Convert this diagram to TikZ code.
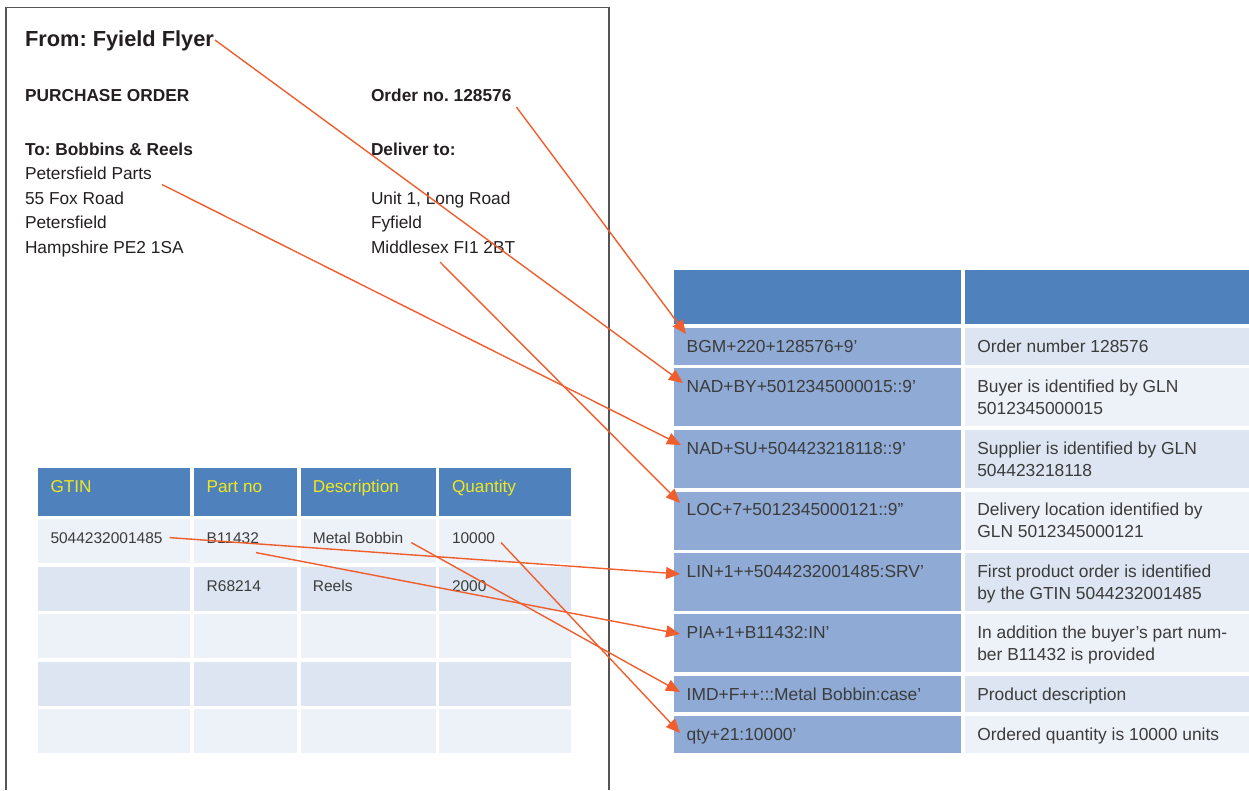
\documentclass[tikz,border=0pt]{standalone}
\usepackage{fontspec}
\setmainfont{Liberation Sans}
\usetikzlibrary{arrows.meta,calc}
\frenchspacing
\definecolor{hdr}{RGB}{79,129,189}
\definecolor{midb}{RGB}{142,170,213}
\definecolor{ltA}{RGB}{220,229,241}
\definecolor{ltB}{RGB}{237,241,248}
\definecolor{yel}{RGB}{240,232,30}
\definecolor{arrc}{RGB}{240,94,45}
\definecolor{txt}{RGB}{60,60,60}
\definecolor{ink}{RGB}{35,31,32}
\definecolor{frame}{RGB}{85,85,85}
\tikzset{
 cellbox/.style={anchor=north west, inner sep=0pt, outer sep=0pt, draw=none},
 doc/.style={anchor=base west, inner sep=0pt, outer sep=0pt, text=ink, font=\fontsize{17.3}{20}\selectfont},
 docb/.style={doc, font=\fontsize{17.3}{20}\selectfont\bfseries},
 ltxt/.style={anchor=base west, inner sep=0pt, outer sep=0pt, text=txt, font=\fontsize{15.5}{18}\selectfont},
 lhead/.style={ltxt, text=yel, font=\fontsize{17.2}{20}\selectfont},
 rtxt/.style={anchor=base west, inner sep=0pt, outer sep=0pt, text=txt, font=\fontsize{17.4}{21}\selectfont},
 link/.style={draw=arrc, line width=1.4pt, -{Triangle[length=14pt,width=12pt]}},
}
\newcommand\cellnode[6]{\node[cellbox, fill=#6, minimum width={#4-#2}, minimum height={#5-#3}] (#1) at (#2,#3) {};}
\begin{document}
\begin{tikzpicture}[x=1pt,y=-1pt]
\useasboundingbox (0,0) rectangle (1249,790);
% page frame
\draw[frame, line width=1.2pt] (6,790) -- (6,7.5) -- (609,7.5) -- (609,790);
% page texts
\node[docb, font=\fontsize{21.8}{24}\selectfont\bfseries] (tFrom) at (25,46) {From: Fyield Flyer};
\node[docb] (tPO) at (25,101) {PURCHASE ORDER};
\node[docb] (tOrder) at (371,101) {Order no. 128576};
\node[docb] (tTo) at (25,155) {To: Bobbins \& Reels};
\node[docb] (tDel) at (371,155) {Deliver to:};
\node[doc] (tPP) at (25,179.5) {Petersfield Parts};
\node[doc] (tFox) at (25,204) {55 Fox Road};
\node[doc] (tPet) at (25,228.5) {Petersfield};
\node[doc] (tHam) at (25,253) {Hampshire PE2 1SA};
\node[doc] (tUnit) at (371,204) {Unit 1, Long Road};
\node[doc] (tFyf) at (371,228.5) {Fyfield};
\node[doc] (tMid) at (371,253) {Middlesex FI1 2BT};
% left table
\cellnode{h1}{38}{467.7}{190.3}{516}{hdr}
\cellnode{h2}{193.7}{467.7}{297.1}{516}{hdr}
\cellnode{h3}{300.7}{467.7}{436}{516}{hdr}
\cellnode{h4}{439}{467.7}{570.7}{516}{hdr}
\foreach \r/\ya/\yb/\c in {1/519.3/562.7/ltB,2/566.7/610.7/ltA,3/614.3/658.3/ltB,4/662/705.7/ltA,5/709.3/753/ltB}{
  \cellnode{a\r}{38}{\ya}{190.3}{\yb}{\c}
  \cellnode{b\r}{193.7}{\ya}{297.1}{\yb}{\c}
  \cellnode{c\r}{300.7}{\ya}{436}{\yb}{\c}
  \cellnode{d\r}{439}{\ya}{570.7}{\yb}{\c}
}
\node[lhead] (hG) at ($(h1.north west)+(12.5,25)$) {GTIN};
\node[lhead] (hP) at ($(h2.north west)+(13,25)$) {Part no};
\node[lhead] (hD) at ($(h3.north west)+(12.2,25)$) {Description};
\node[lhead] (hQ) at ($(h4.north west)+(13,25)$) {Quantity};
\node[ltxt] (g1) at ($(a1.north west)+(12.5,24.3)$) {5044232001485};
\node[ltxt] (p1) at ($(b1.north west)+(13,24.3)$) {B11432};
\node[ltxt] (e1) at ($(c1.north west)+(12.2,24.3)$) {Metal Bobbin};
\node[ltxt] (q1) at ($(d1.north west)+(13,24.3)$) {10000};
\node[ltxt] (p2) at ($(b2.north west)+(13,25)$) {R68214};
\node[ltxt] (e2) at ($(c2.north west)+(12.2,25)$) {Reels};
\node[ltxt] (q2) at ($(d2.north west)+(13,25)$) {2000};
% right table
\cellnode{rh1}{674}{270}{961}{324.3}{hdr}
\cellnode{rh2}{965}{270}{1249}{324.3}{hdr}
\foreach \r/\ya/\yb/\c in {1/328.3/365/ltA,2/368.3/426/ltB,3/430/488/ltA,4/491.5/549.5/ltB,5/553/610.7/ltA,6/614/671.7/ltB,7/676/712.3/ltA,8/715.7/753.3/ltB}{
  \cellnode{rL\r}{674}{\ya}{961}{\yb}{midb}
  \cellnode{rR\r}{965}{\ya}{1249}{\yb}{\c}
}
\node[rtxt] (s1) at ($(rL1.north west)+(12.7,24.4)$) {BGM+220+128576+9’};
\node[rtxt] (s2) at ($(rL2.north west)+(12.7,24.4)$) {NAD+BY+5012345000015::9’};
\node[rtxt] (s3) at ($(rL3.north west)+(12.7,24.4)$) {NAD+SU+504423218118::9’};
\node[rtxt] (s4) at ($(rL4.north west)+(12.7,24.4)$) {LOC+7+5012345000121::9”};
\node[rtxt] (s5) at ($(rL5.north west)+(12.7,24.4)$) {LIN+1++5044232001485:SRV’};
\node[rtxt] (s6) at ($(rL6.north west)+(12.7,24.4)$) {PIA+1+B11432:IN’};
\node[rtxt] (s7) at ($(rL7.north west)+(12.7,24.4)$) {IMD+F++:::Metal Bobbin:case’};
\node[rtxt] (s8) at ($(rL8.north west)+(12.7,24.4)$) {qty+21:10000’};
\node[rtxt] (m1) at ($(rR1.north west)+(12.3,24.4)$) {Order number 128576};
\node[rtxt] (m2) at ($(rR2.north west)+(12.3,24.4)$) {Buyer is identified by GLN};
\node[rtxt] (m2b) at ($(rR2.north west)+(12.3,46)$) {5012345000015};
\node[rtxt] (m3) at ($(rR3.north west)+(12.3,24.4)$) {Supplier is identified by GLN};
\node[rtxt] (m3b) at ($(rR3.north west)+(12.3,46)$) {504423218118};
\node[rtxt] (m4) at ($(rR4.north west)+(12.3,24.4)$) {Delivery location identified by};
\node[rtxt] (m4b) at ($(rR4.north west)+(12.3,46)$) {GLN 5012345000121};
\node[rtxt] (m5) at ($(rR5.north west)+(12.3,24.4)$) {First product order is identified};
\node[rtxt] (m5b) at ($(rR5.north west)+(12.3,46)$) {by the GTIN 5044232001485};
\node[rtxt] (m6) at ($(rR6.north west)+(12.3,24.4)$) {In addition the buyer’s part num-};
\node[rtxt] (m6b) at ($(rR6.north west)+(12.3,46)$) {ber B11432 is provided};
\node[rtxt] (m7) at ($(rR7.north west)+(12.3,24.4)$) {Product description};
\node[rtxt] (m8) at ($(rR8.north west)+(12.3,24.4)$) {Ordered quantity is 10000 units};
% connector ends
\coordinate (oFrom) at ($(tFrom.base east)+(1,-6)$);
\coordinate (oOrder) at ($(tOrder.base east)+(5,6)$);
\coordinate (oPP) at ($(tPP.base east)+(10,5)$);
\coordinate (oMid) at ($(tMid.base west)+(69,9)$);
\coordinate (oG) at ($(g1.base east)+(7,-6)$);
\coordinate (oP) at ($(p1.base east)+(-3,9)$);
\coordinate (oE) at ($(e1.base east)+(8,-1)$);
\coordinate (oQ) at ($(q1.base east)+(6,-1)$);
\coordinate (k1) at ($(rL1.north west)+(12,5.7)$);
\coordinate (k2) at ($(rL2.north west)+(9,14.7)$);
\coordinate (k3) at ($(rL3.north west)+(7,15)$);
\coordinate (k4) at ($(rL4.north west)+(6,11.5)$);
\coordinate (k5) at ($(rL5.north west)+(6,21)$);
\coordinate (k6) at ($(rL6.north west)+(6,20)$);
\coordinate (k7) at ($(rL7.north west)+(6,16)$);
\coordinate (k8) at ($(rL8.north west)+(6,17.3)$);
% connectors
\draw[link] (oOrder) -- (k1);
\draw[link] (oFrom) -- (k2);
\draw[link] (oPP) -- (k3);
\draw[link] (oMid) -- (k4);
\draw[link] (oG) -- (k5);
\draw[link] (oP) -- (k6);
\draw[link] (oE) -- (k7);
\draw[link] (oQ) -- (k8);
\end{tikzpicture}
\end{document}
